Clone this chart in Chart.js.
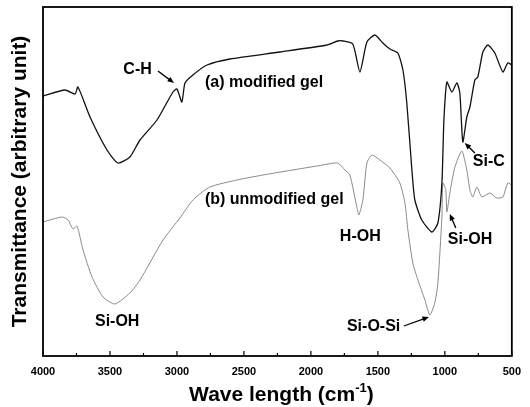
<!DOCTYPE html>
<html>
<head>
<meta charset="utf-8">
<script src="https://cdn.jsdelivr.net/npm/chart.js@4.4.1/dist/chart.umd.min.js"></script>
<style>
  html, body { margin: 0; padding: 0; background: #fff; }
  #wrap { width: 530px; height: 407px; }
</style>
</head>
<body>
<div id="wrap"><canvas id="ftir"></canvas></div>
<script>
// wavenumber (cm-1) and transmittance (arbitrary unit)
const modWave = [4000, 3836, 3761, 3739, 3649, 3522, 3440, 3351, 3276, 3149, 3030, 3000, 2963, 2940, 2881, 2776, 2604, 2231, 1881, 1799, 1761, 1687, 1634, 1582, 1522, 1463, 1410, 1351, 1313, 1284, 1246, 1224, 1172, 1097, 1052, 1022, 1007, 985, 948, 910, 888, 866, 836, 813, 776, 754, 716, 679, 627, 567, 530, 500];
const modTrans = [260, 266, 262, 269, 239, 206, 193, 199, 216, 236, 264, 267, 254, 273, 281, 291, 297, 304, 311, 315, 315, 312, 284, 314, 321, 313, 307, 303, 286, 253, 186, 156, 136, 124, 133, 173, 236, 274, 264, 273, 263, 214, 239, 249, 276, 279, 304, 311, 303, 284, 293, 291];

const unmodWave = [4000, 3858, 3813, 3776, 3746, 3701, 3634, 3552, 3463, 3351, 3276, 3104, 2978, 2881, 2754, 2552, 2358, 1910, 1799, 1746, 1709, 1657, 1642, 1612, 1582, 1545, 1485, 1410, 1336, 1298, 1276, 1239, 1201, 1149, 1112, 1075, 1052, 1022, 1015, 993, 985, 963, 925, 873, 836, 813, 791, 761, 724, 664, 612, 567, 530, 500];
const unmodTrans = [134, 139, 136, 127, 130, 106, 79, 59, 52, 63, 76, 116, 138, 156, 169, 176, 181, 191, 193, 186, 181, 149, 141, 156, 193, 201, 196, 188, 173, 153, 126, 93, 76, 56, 41, 53, 73, 139, 173, 166, 144, 163, 189, 205, 186, 166, 159, 169, 159, 163, 158, 159, 173, 171];

const xTicks = [4000, 3500, 3000, 2500, 2000, 1500, 1000, 500];

// labels: text, wavenumber of left edge, transmittance of centre
const notes = [
    { text: 'C-H', x: 3400, y: 286 },
    { text: '(a) modified gel', x: 2791, y: 273 },
    { text: '(b) unmodified gel', x: 2791, y: 156 },
    { text: 'Si-C', x: 791, y: 194 },
    { text: 'H-OH', x: 1784, y: 119 },
    { text: 'Si-OH', x: 978, y: 116 },
    { text: 'Si-OH', x: 3612, y: 34 },
    { text: 'Si-O-Si', x: 1731, y: 29 }
];
const arrows = [
    { from: [3142, 285], to: [3022, 273] },
    { from: [776, 203], to: [851, 213] },
    { from: [918, 128], to: [963, 142] },
    { from: [1306, 30], to: [1119, 39] }
];

const toPoints = (xs, ys) => xs.map((x, i) => ({ x, y: ys[i] }));
const FONT = '"Liberation Sans", Arial, sans-serif';

const decor = {
    id: 'decor',
    afterDraw(chart) {
        const { ctx, chartArea: a, scales: { x, y } } = chart;
        ctx.save();
        // frame
        ctx.strokeStyle = '#000';
        ctx.lineWidth = 1.8;
        ctx.strokeRect(a.left, a.top, a.right - a.left, a.bottom - a.top);
        // inward ticks on the bottom axis
        ctx.lineWidth = 1.2;
        for (let v = 4000; v >= 500; v -= 250) {
            const px = x.getPixelForValue(v);
            const len = v % 500 === 0 ? 5 : 3;
            ctx.beginPath();
            ctx.moveTo(px, a.bottom);
            ctx.lineTo(px, a.bottom - len);
            ctx.stroke();
        }
        // notes
        ctx.fillStyle = '#000';
        ctx.font = 'bold 16px ' + FONT;
        ctx.textBaseline = 'middle';
        ctx.textAlign = 'left';
        notes.forEach(n => ctx.fillText(n.text, x.getPixelForValue(n.x), y.getPixelForValue(n.y)));
        // arrows
        ctx.lineWidth = 1.3;
        arrows.forEach(ar => {
            const x0 = x.getPixelForValue(ar.from[0]), y0 = y.getPixelForValue(ar.from[1]);
            const x1 = x.getPixelForValue(ar.to[0]), y1 = y.getPixelForValue(ar.to[1]);
            const ang = Math.atan2(y1 - y0, x1 - x0);
            ctx.beginPath();
            ctx.moveTo(x0, y0);
            ctx.lineTo(x1 - 4 * Math.cos(ang), y1 - 4 * Math.sin(ang));
            ctx.stroke();
            ctx.beginPath();
            ctx.moveTo(x1, y1);
            ctx.lineTo(x1 - 7 * Math.cos(ang - 0.4), y1 - 7 * Math.sin(ang - 0.4));
            ctx.lineTo(x1 - 7 * Math.cos(ang + 0.4), y1 - 7 * Math.sin(ang + 0.4));
            ctx.closePath();
            ctx.fill();
        });
        // axis titles
        ctx.font = 'bold 21px ' + FONT;
        ctx.textAlign = 'center';
        ctx.save();
        ctx.translate(20, (a.top + a.bottom) / 2);
        ctx.rotate(-Math.PI / 2);
        ctx.fillText('Transmittance (arbitrary unit)', 0, 0);
        ctx.restore();
        const main = 'Wave length (cm';
        const sup = '-1';
        const tail = ')';
        ctx.textAlign = 'left';
        ctx.textBaseline = 'alphabetic';
        const wMain = ctx.measureText(main).width;
        const wTail = ctx.measureText(tail).width;
        ctx.font = 'bold 13px ' + FONT;
        const wSup = ctx.measureText(sup).width;
        const sx = (a.left + a.right) / 2 - (wMain + wSup + wTail) / 2 + 4;
        const base = 401;
        ctx.font = 'bold 21px ' + FONT;
        ctx.fillText(main, sx, base);
        ctx.font = 'bold 13px ' + FONT;
        ctx.fillText(sup, sx + wMain, base - 9);
        ctx.font = 'bold 21px ' + FONT;
        ctx.fillText(tail, sx + wMain + wSup, base);
        ctx.restore();
    }
};

new Chart(document.getElementById('ftir'), {
    type: 'line',
    data: {
        datasets: [
            { label: '(a) modified gel', data: toPoints(modWave, modTrans), borderColor: '#111', borderWidth: 1.3, pointRadius: 0, tension: 0.2, fill: false },
            { label: '(b) unmodified gel', data: toPoints(unmodWave, unmodTrans), borderColor: '#8a8a8a', borderWidth: 1, pointRadius: 0, tension: 0.2, fill: false }
        ]
    },
    options: {
        responsive: true,
        maintainAspectRatio: false,
        animation: false,
        layout: { padding: { left: 43, right: 18, top: 7, bottom: 0 } },
        plugins: { legend: { display: false }, tooltip: { enabled: false } },
        scales: {
            x: {
                type: 'linear',
                reverse: true,
                min: 500,
                max: 4000,
                afterBuildTicks: s => { s.ticks = xTicks.map(v => ({ value: v })); },
                afterFit: s => { s.height = 51; },
                grid: { display: false, drawTicks: false },
                border: { display: false },
                ticks: {
                    padding: 9,
                    color: '#000',
                    font: { family: FONT, size: 11, weight: 'bold' },
                    maxRotation: 0,
                    callback: v => String(v)
                }
            },
            y: { display: false, min: 0, max: 349 }
        }
    },
    plugins: [decor]
});
</script>
</body>
</html>
